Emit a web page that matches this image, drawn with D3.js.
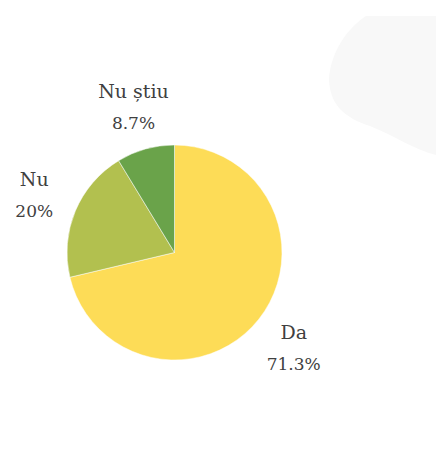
<!DOCTYPE html>
<html>
<head>
<meta charset="utf-8">
<script src="https://cdn.jsdelivr.net/npm/d3@7"></script>
<style>
  body { margin: 0; background: #fff; }
  text { font-family: "DejaVu Serif", "Liberation Serif", serif; fill: #404040; }
</style>
</head>
<body>
<div id="canvas"></div>
<script>
"use strict"

let svgWidth = 436;
let svgHeight = 470;

// answers and their shares (%)
let categories = ["Da", "Nu", "Nu știu"];
let values = [71.3, 20, 8.7];
let valueLabels = ["71.3%", "20%", "8.7%"];
let colors = ["#fddc57", "#b2c04f", "#6aa34a"];

let cx = 174.5;
let cy = 252.5;
let radius = 107.5;
let labelRadius = 152;

let svg = d3.select("#canvas")
    .append("svg")
    .attr("width", svgWidth)
    .attr("height", svgHeight);

/* faint decorative blob top right */
svg.append("path")
    .attr("d", "M436,16 L366,16 C345,30 330,55 329,80 C330,105 345,118 370,126 C395,136 415,150 436,155 Z")
    .attr("fill", "#f8f8f8");

let dataset = categories.map(function (c, i) {
    return {name: c, value: values[i], label: valueLabels[i], color: colors[i]};
});

let pie = d3.pie()
    .sort(null)
    .value(function (d) { return d.value; });

let arc = d3.arc()
    .innerRadius(0)
    .outerRadius(radius);

let labelArc = d3.arc()
    .innerRadius(labelRadius)
    .outerRadius(labelRadius);

let g = svg.append("g")
    .attr("transform", "translate(" + cx + "," + cy + ")");

g.selectAll("path.slice")
    .data(pie(dataset))
    .join("path")
    .attr("class", "slice")
    .attr("d", arc)
    .attr("fill", function (d) { return d.data.color; })
    .attr("stroke", "#ffffff")
    .attr("stroke-width", 0.5);

/* labels outside the pie */
let labels = g.selectAll("g.label")
    .data(pie(dataset))
    .join("g")
    .attr("class", "label")
    .attr("transform", function (d) {
        let p = labelArc.centroid(d);
        return "translate(" + p[0] + "," + p[1] + ")";
    });

labels.append("text")
    .attr("y", -8)
    .attr("text-anchor", "middle")
    .attr("font-size", 19)
    .text(function (d) { return d.data.name; });

labels.append("text")
    .attr("y", 23)
    .attr("text-anchor", "middle")
    .attr("font-size", 17)
    .text(function (d) { return d.data.label; });
</script>
</body>
</html>
